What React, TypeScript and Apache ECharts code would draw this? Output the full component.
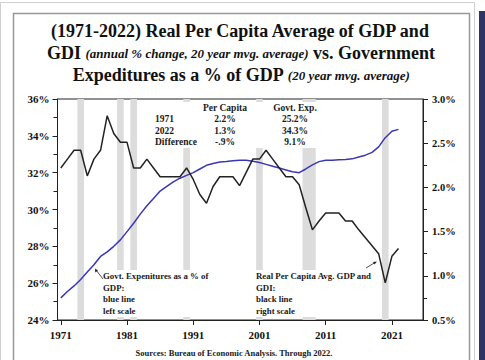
import React, { useEffect, useRef } from "react";
import * as echarts from "echarts";

const startYear = 1971;
const govtExp = [
  25.2, 25.55, 25.85, 26.2, 26.6, 27.0, 27.45, 27.7, 28.0, 28.35,
  28.8, 29.25, 29.75, 30.2, 30.6, 31.0, 31.25, 31.5, 31.7, 31.85,
  32.0, 32.2, 32.4, 32.5, 32.58, 32.6, 32.65, 32.67, 32.67, 32.62,
  32.55, 32.45, 32.35, 32.25, 32.15, 32.05, 32.0, 32.2, 32.42, 32.6,
  32.67, 32.68, 32.7, 32.72, 32.75, 32.85, 32.95, 33.1, 33.4, 33.9,
  34.25, 34.35,
];
const perCapita = [
  2.22, 2.32, 2.42, 2.42, 2.13, 2.32, 2.42, 2.81, 2.61, 2.51,
  2.51, 2.22, 2.22, 2.32, 2.22, 2.12, 2.12, 2.12, 2.12, 2.22,
  2.09, 1.92, 1.82, 2.01, 2.12, 2.12, 2.12, 2.02, 2.17, 2.32,
  2.32, 2.42, 2.32, 2.22, 2.12, 2.12, 2.03, 1.77, 1.52, 1.62,
  1.71, 1.71, 1.71, 1.62, 1.62, 1.52, 1.43, 1.34, 1.25, 0.92,
  1.22, 1.31,
];
const recessions = [
  [1973.5, 1974.5],
  [1979.5, 1980.5],
  [1981.5, 1982.5],
  [1989.5, 1990.5],
  [2000.5, 2001.5],
  [2007.5, 2009.5],
  [2019.5, 2020.5],
];
const xTickYears = [1971, 1981, 1991, 2001, 2011, 2021];
const tableHeaders = ["Per Capita", "Govt. Exp."];
const tableRows = ["1971", "2022", "Difference"];
const tablePerCapita = ["2.2%", "1.3%", "-.9%"];
const tableGovt = ["25.2%", "34.3%", "9.1%"];
const leftNote = ["Govt. Expenitures as a % of", "GDP:", "blue line", "left scale"];
const rightNote = ["Real Per Capita Avg. GDP and", "GDI:", "black line", "right scale"];

const SERIF = "'Liberation Serif', 'Times New Roman', serif";

export default function App() {
  const ref = useRef<HTMLDivElement>(null);
  useEffect(() => {
    if (!ref.current) return;
    const chart = echarts.init(ref.current, null, { renderer: "svg" });
    const blueData = govtExp.map((v, i) => [startYear + i, v]);
    const blackData = perCapita.map((v, i) => [startYear + i, v]);
    const txt = (text: string, x: number, y: number, size: number, align = "left") => ({
      type: "text",
      z: 101,
      style: {
        text,
        x,
        y,
        align,
        verticalAlign: "middle",
        fontFamily: SERIF,
        fontWeight: "bold",
        fontSize: size,
        fill: "#1a1a1a",
      },
    });
    const graphics: any[] = [
      { type: "rect", z: 0, shape: { x: 0.5, y: 2.5, width: 474, height: 370 }, style: { fill: "none", stroke: "#cfcfcf", lineWidth: 1 } },
      { type: "rect", z: 0, shape: { x: 13.5, y: 13.5, width: 456, height: 370 }, style: { fill: "none", stroke: "#999", lineWidth: 1.5 } },
      { type: "rect", z: 0, shape: { x: 479, y: 11, width: 6, height: 349 }, style: { fill: "#2e3566" } },
      // title
      {
        type: "text", z: 101,
        style: { text: "(1971-2022) Real Per Capita Average of GDP and", x: 240, y: 31, align: "center", verticalAlign: "middle", fontFamily: SERIF, fontWeight: "bold", fontSize: 18, fill: "#111" },
      },
      {
        type: "text", z: 101,
        style: {
          text: "{b|GDI }{i|(annual % change, 20 year mvg. average)}{b| vs. Government}",
          x: 241, y: 53, align: "center", verticalAlign: "middle",
          rich: {
            b: { fontFamily: SERIF, fontWeight: "bold", fontSize: 18, fill: "#111" },
            i: { fontFamily: SERIF, fontWeight: "bold", fontStyle: "italic", fontSize: 13, fill: "#111" },
          },
        },
      },
      {
        type: "text", z: 101,
        style: {
          text: "{b|Expeditures as a % of GDP }{i|(20 year mvg. average)}",
          x: 241, y: 75, align: "center", verticalAlign: "middle",
          rich: {
            b: { fontFamily: SERIF, fontWeight: "bold", fontSize: 18, fill: "#111" },
            i: { fontFamily: SERIF, fontWeight: "bold", fontStyle: "italic", fontSize: 13, fill: "#111" },
          },
        },
      },
      // white boxes over recession bars
      { type: "rect", z: 100, shape: { x: 145, y: 102, width: 178, height: 46 }, style: { fill: "#fff" } },
      { type: "rect", z: 100, shape: { x: 100, y: 270, width: 113, height: 47 }, style: { fill: "#fff" } },
      { type: "rect", z: 100, shape: { x: 254, y: 270, width: 108, height: 47 }, style: { fill: "#fff" } },
      txt(tableHeaders[0], 225, 108, 9.5, "center"),
      txt(tableHeaders[1], 295, 108, 9.5, "center"),
      ...tableRows.map((r, i) => txt(r, 155, 119 + i * 11.5, 9.5)),
      ...tablePerCapita.map((r, i) => txt(r, 225, 119 + i * 11.5, 9.5, "center")),
      ...tableGovt.map((r, i) => txt(r, 295, 119 + i * 11.5, 9.5, "center")),
      ...leftNote.map((r, i) => txt(r, 103, 276 + i * 11.5, 8.8)),
      ...rightNote.map((r, i) => txt(r, 256, 276 + i * 11.5, 8.8)),
      // arrows
      { type: "line", z: 101, shape: { x1: 103, y1: 279, x2: 96, y2: 270 }, style: { stroke: "#222", lineWidth: 0.8 } },
      { type: "polygon", z: 101, shape: { points: [[95, 268.5], [95.3, 272.5], [98, 270.5]] }, style: { fill: "#222" } },
      { type: "line", z: 101, shape: { x1: 366, y1: 268, x2: 375, y2: 262.5 }, style: { stroke: "#222", lineWidth: 0.8 } },
      { type: "polygon", z: 101, shape: { points: [[377, 261.5], [373, 262], [374.5, 264.5]] }, style: { fill: "#222" } },
      txt("Sources: Bureau of Economic Analysis. Through 2022.", 234, 353, 8.5, "center"),
    ];

    chart.setOption({
      animation: false,
      backgroundColor: "#fff",
      grid: { left: 57.5, right: 62, top: 99, bottom: 40, show: true, borderColor: "#222", borderWidth: 1 },
      xAxis: {
        type: "value",
        min: 1970.5,
        max: 2025.7,
        splitLine: { show: false },
        axisLine: { lineStyle: { color: "#222", width: 1 } },
        axisTick: { inside: false, length: 5, customValues: xTickYears, lineStyle: { color: "#222" } },
        axisLabel: {
          customValues: xTickYears,
          formatter: (v: number) => String(v),
          fontFamily: SERIF, fontWeight: "bold", fontSize: 11, color: "#111", margin: 9,
        },
      },
      yAxis: [
        {
          type: "value", position: "left", min: 24, max: 36, interval: 2,
          splitLine: { show: false },
          axisLine: { show: true, lineStyle: { color: "#222" } },
          axisTick: { show: true, length: 5, lineStyle: { color: "#222" } },
          minorTick: { show: true, splitNumber: 2, length: 4, lineStyle: { color: "#222" } },
          axisLabel: { formatter: (v: number) => v + "%", fontFamily: SERIF, fontWeight: "bold", fontSize: 11, color: "#111", margin: 8 },
        },
        {
          type: "value", position: "right", min: 0.5, max: 3.0, interval: 0.5,
          splitLine: { show: false },
          axisLine: { show: true, lineStyle: { color: "#222" } },
          axisTick: { show: true, length: 5, lineStyle: { color: "#222" } },
          minorTick: { show: true, splitNumber: 2, length: 4, lineStyle: { color: "#222" } },
          axisLabel: { formatter: (v: number) => v.toFixed(1) + "%", fontFamily: SERIF, fontWeight: "bold", fontSize: 10.5, color: "#111", margin: 9 },
        },
      ],
      series: [
        {
          name: "Govt. Exp.",
          type: "line",
          yAxisIndex: 0,
          data: blueData,
          showSymbol: false,
          lineStyle: { color: "#3a36b8", width: 1.5 },
          z: 3,
          markArea: {
            silent: true,
            itemStyle: { color: "#dcdcdc" },
            data: recessions.map(([a, b]) => [{ xAxis: a }, { xAxis: b }]),
          },
        },
        {
          name: "Per Capita",
          type: "line",
          yAxisIndex: 1,
          data: blackData,
          showSymbol: false,
          lineStyle: { color: "#222", width: 1.5 },
          z: 4,
        },
      ],
      graphic: graphics,
    });
    return () => chart.dispose();
  }, []);
  return <div ref={ref} style={{ position: "fixed", left: 0, top: 0, width: 485, height: 360 }} />;
}
